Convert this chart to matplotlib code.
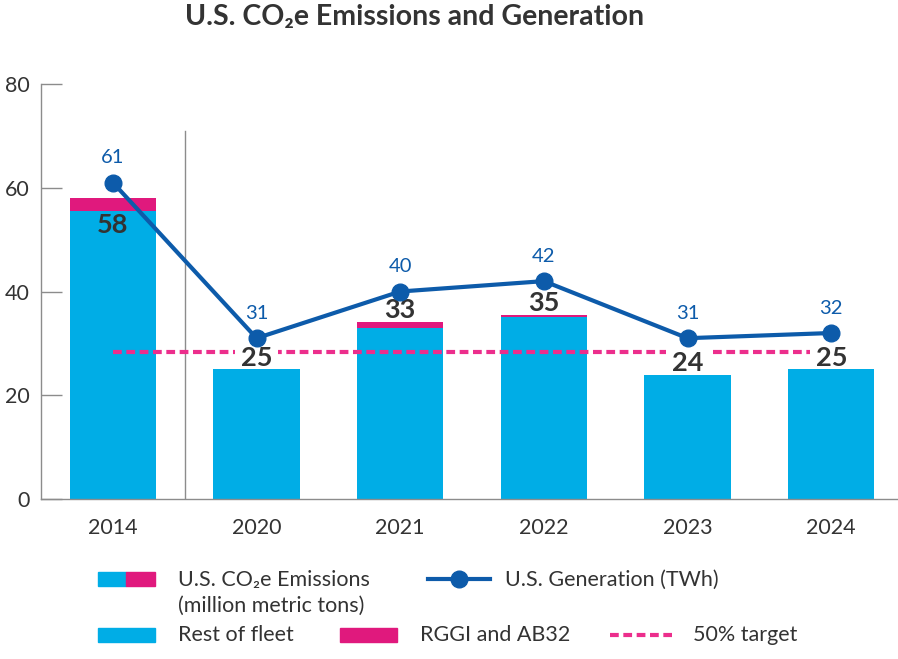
import matplotlib
matplotlib.use("Agg")
import matplotlib.pyplot as plt
from matplotlib.patches import Rectangle
from matplotlib.lines import Line2D

plt.rcParams['font.family'] = ['Lato', 'DejaVu Sans']

years = ['2014', '2020', '2021', '2022', '2023', '2024']
rest_of_fleet = [55.5, 25.0, 33.0, 35.0, 24.0, 25.0]
rggi_ab32 = [2.6, 0.0, 1.1, 0.5, 0.0, 0.0]
emission_labels = ['58', '25', '33', '35', '24', '25']
generation = [61, 31, 40, 42, 31, 32]
target = 28.3

CYAN = '#00ADE6'
MAGENTA = '#E0197D'
NAVY = '#0D5BAA'
PINK = '#EC2E8C'
GRAY = '#8C8C8C'
TEXT = '#333333'
DASH = (0, (2.1, 1.1))

fig = plt.figure(figsize=(8.98, 6.59), dpi=100)
ax = fig.add_axes([0.0457, 0.2428, 0.96, 0.6297])

x = list(range(len(years)))
ax.bar(x, rest_of_fleet, width=0.6, color=CYAN, zorder=2)
ax.bar(x, rggi_ab32, width=0.6, bottom=rest_of_fleet, color=MAGENTA, zorder=2)

# 50% target
ax.plot([x[0], x[-1]], [target, target], color=PINK, lw=3, ls=DASH, zorder=3)

# separator between baseline year and recent years
ax.axvline(0.5, ymin=0, ymax=71 / 80, color=GRAY, lw=1, zorder=1)

# generation line
ax.plot(x, generation, color=NAVY, lw=3, marker='o', ms=12, zorder=5)
for xi, g in zip(x, generation):
    ax.annotate(str(g), (xi, g), xytext=(0, 18), textcoords='offset points',
                ha='center', va='center', fontsize=14.5, color=NAVY, zorder=6)

# emission labels
for xi, r, m, lab in zip(x, rest_of_fleet, rggi_ab32, emission_labels):
    top = r + m
    if xi == 0:
        ax.annotate(lab, (xi, top), xytext=(0, -20), textcoords='offset points',
                    ha='center', va='center', fontsize=19.5, fontweight='bold',
                    color=TEXT, zorder=4)
    else:
        t = ax.annotate(lab, (xi, top), xytext=(0, 8.5), textcoords='offset points',
                        ha='center', va='center', fontsize=19.5, fontweight='bold',
                        color=TEXT, zorder=4,
                        bbox=dict(boxstyle='square,pad=0.2', fc='white', ec='none'))
        # keep the white box from covering the bar itself
        t.get_bbox_patch().set_clip_path(
            Rectangle((xi - 0.5, top), 1.0, 80, transform=ax.transData))

ax.set_xlim(-0.5, 5.5)
ax.set_ylim(0, 80)
ax.set_yticks([0, 20, 40, 60, 80])
ax.set_xticks(x)
ax.set_xticklabels(years)
for s in ['top', 'right']:
    ax.spines[s].set_visible(False)
for s in ['left', 'bottom']:
    ax.spines[s].set_color(GRAY)
    ax.spines[s].set_linewidth(1)
ax.tick_params(axis='y', direction='in', length=15, color=GRAY, width=1,
               pad=8, labelsize=15.5, labelcolor=TEXT)
ax.tick_params(axis='x', length=0, pad=14, labelsize=15.5, labelcolor=TEXT)

fig.text(0.462, 1 - 17 / 659, 'U.S. CO₂e Emissions and Generation', ha='center',
         va='center', fontsize=20.5, fontweight='bold', color=TEXT)

# legend drawn in a pixel-coordinate overlay
lg = fig.add_axes([0, 0, 1, 1], facecolor='none')
lg.set_xlim(0, 898)
lg.set_ylim(659, 0)
lg.axis('off')
fs = 15.5
lg.add_patch(Rectangle((98, 572), 28, 14, color=CYAN))
lg.add_patch(Rectangle((126, 572), 29, 14, color=MAGENTA))
lg.text(178, 580, 'U.S. CO₂e Emissions', va='center', ha='left', fontsize=fs, color=TEXT)
lg.text(178, 606, '(million metric tons)', va='center', ha='left', fontsize=fs, color=TEXT)
lg.add_line(Line2D([428, 490], [579, 579], color=NAVY, lw=3))
lg.add_line(Line2D([459], [579], color=NAVY, marker='o', ms=12))
lg.text(505, 580, 'U.S. Generation (TWh)', va='center', ha='left', fontsize=fs, color=TEXT)
lg.add_patch(Rectangle((98, 628), 57, 14, color=CYAN))
lg.text(178, 635, 'Rest of fleet', va='center', ha='left', fontsize=fs, color=TEXT)
lg.add_patch(Rectangle((340, 628), 57, 14, color=MAGENTA))
lg.text(420, 635, 'RGGI and AB32', va='center', ha='left', fontsize=fs, color=TEXT)
lg.add_line(Line2D([610, 672], [635, 635], color=PINK, lw=3, ls=DASH))
lg.text(693, 635, '50% target', va='center', ha='left', fontsize=fs, color=TEXT)

fig.savefig('out.png', dpi=100)
